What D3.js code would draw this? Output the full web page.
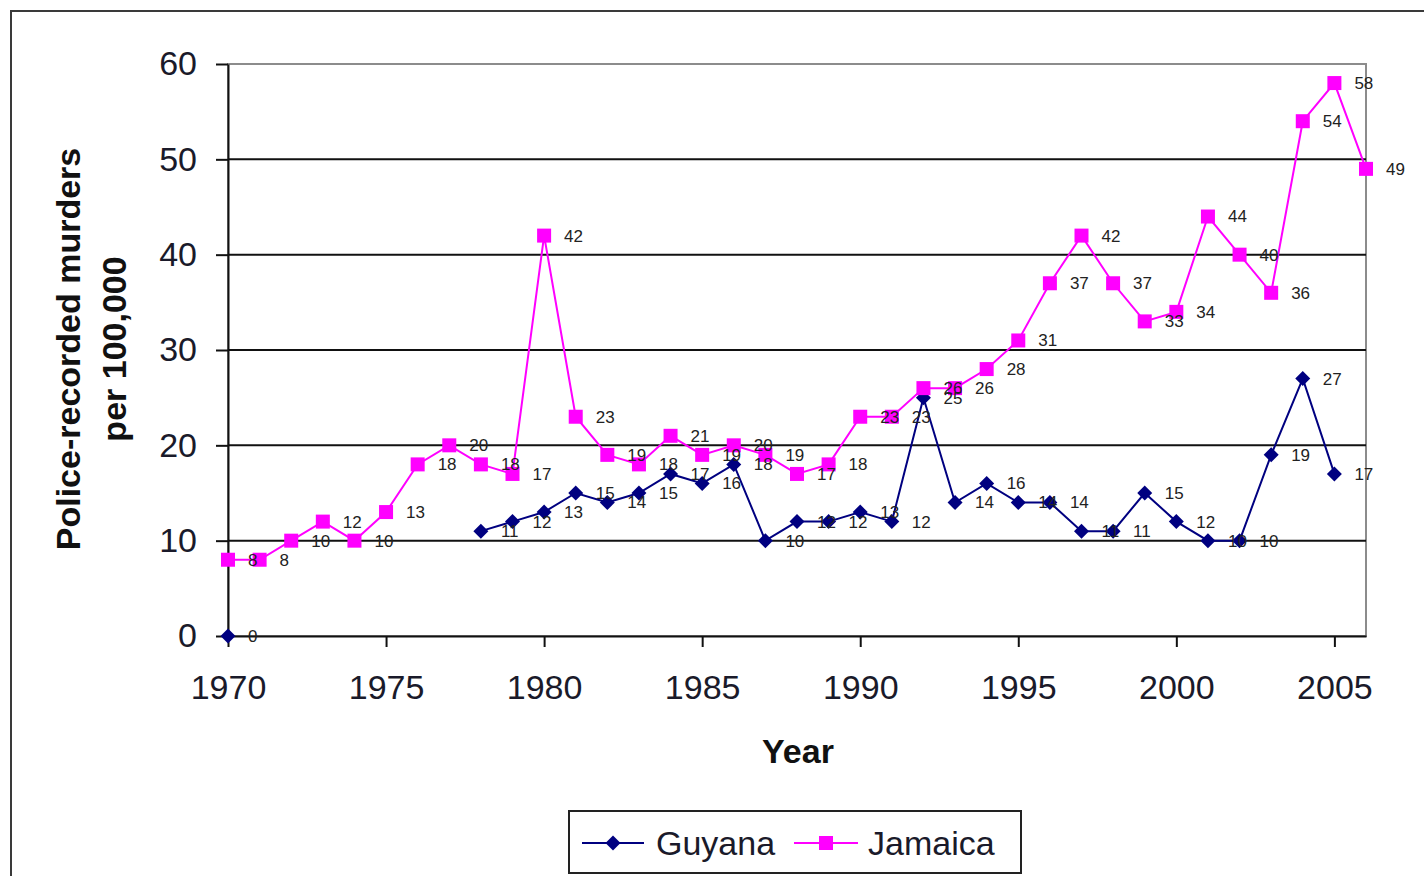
<!DOCTYPE html>
<html>
<head>
<meta charset="utf-8">
<script src="https://cdn.jsdelivr.net/npm/d3@7"></script>
<style>
  body { margin: 0; background: #fff; }
  svg { display: block; font-family: "Liberation Sans", Arial, sans-serif; }
</style>
</head>
<body>
<svg></svg>
<script>
// years on the x axis
let years = d3.range(1970, 2007);

// police-recorded murders per 100,000 (null = no data)
let guyana = [0, null, null, null, null, null, null, null, 11, 12,
              13, 15, 14, 15, 17, 16, 18, 10, 12, 12,
              13, 12, 25, 14, 16, 14, 14, 11, 11, 15,
              12, 10, 10, 19, 27, 17, null];
let jamaica = [8, 8, 10, 12, 10, 13, 18, 20, 18, 17,
               42, 23, 19, 18, 21, 19, 20, 19, 17, 18,
               23, 23, 26, 26, 28, 31, 37, 42, 37, 33,
               34, 44, 40, 36, 54, 58, 49];

let xTicks = [1970, 1975, 1980, 1985, 1990, 1995, 2000, 2005];
let yTicks = [0, 10, 20, 30, 40, 50, 60];
let seriesNames = ['Guyana', 'Jamaica'];

let svgWidth = 1424,
    svgHeight = 876;

// plot area
let plotLeft = 228, plotRight = 1366, plotTop = 64, plotBottom = 636;

let svg = d3.select('svg')
            .attr('width', svgWidth)
            .attr('height', svgHeight);

let xScale = d3.scaleLinear()
               .domain([1970, 2006])
               .range([plotLeft, plotRight]);

let yScale = d3.scaleLinear()
               .domain([0, 60])
               .range([plotBottom, plotTop]);

// outer chart border (runs off the right and bottom of the picture)
svg.append('rect')
   .attr('x', 11).attr('y', 11)
   .attr('width', 1440).attr('height', 900)
   .attr('fill', 'none')
   .attr('stroke', '#3a3a3a')
   .attr('stroke-width', 2);

// plot area border
svg.append('rect')
   .attr('x', plotLeft).attr('y', plotTop)
   .attr('width', plotRight - plotLeft).attr('height', plotBottom - plotTop)
   .attr('fill', 'none')
   .attr('stroke', '#8c8c8c')
   .attr('stroke-width', 2);

// gridlines
svg.append('g')
   .selectAll('line')
   .data(yTicks.filter(d => d > 0 && d < 60))
   .enter()
   .append('line')
   .attr('x1', plotLeft).attr('x2', plotRight)
   .attr('y1', d => yScale(d)).attr('y2', d => yScale(d))
   .attr('stroke', '#111')
   .attr('stroke-width', 2);

// y axis
let yAxis = svg.append('g')
               .attr('transform', `translate(${plotLeft},0)`)
               .call(d3.axisLeft(yScale).tickValues(yTicks).tickSize(12).tickSizeOuter(0).tickPadding(19));

// x axis
let xAxis = svg.append('g')
               .attr('transform', `translate(0,${plotBottom})`)
               .call(d3.axisBottom(xScale).tickValues(xTicks).tickFormat(d3.format('d'))
                       .tickSize(11).tickSizeOuter(0).tickPadding(28));

[yAxis, xAxis].forEach(a => {
    a.select('.domain').attr('stroke', '#111').attr('stroke-width', 2);
    a.selectAll('.tick line').attr('stroke', '#111').attr('stroke-width', 2);
    a.selectAll('.tick text')
     .attr('fill', '#1a1a2a')
     .style('font-size', '34px')
     .style('font-family', '"Liberation Sans", Arial, sans-serif');
});

// axis titles
svg.append('text')
   .attr('x', 798).attr('y', 763)
   .attr('text-anchor', 'middle')
   .style('font-size', '34px')
   .style('font-weight', 'bold')
   .attr('fill', '#111')
   .text('Year');

let yTitle = svg.append('text')
                .attr('transform', 'translate(80,349) rotate(-90)')
                .attr('text-anchor', 'middle')
                .style('font-size', '34px')
                .style('font-weight', 'bold')
                .attr('fill', '#111');
yTitle.append('tspan').attr('x', 0).attr('y', 0).text('Police-recorded murders');
yTitle.append('tspan').attr('x', 0).attr('y', 46).text('per 100,000');

// series
let series = [
    {name: seriesNames[0], values: guyana, color: '#000080', marker: 'diamond'},
    {name: seriesNames[1], values: jamaica, color: '#ff00ff', marker: 'square'}
];

let line = d3.line()
             .defined(d => d.v !== null)
             .x(d => xScale(d.year))
             .y(d => yScale(d.v));

let diamond = 'M0,-7.5L7.5,0L0,7.5L-7.5,0Z';

function drawMarker(g, type, color) {
    if (type === 'diamond') {
        g.append('path').attr('d', diamond).attr('fill', color);
    } else {
        g.append('rect').attr('x', -7).attr('y', -7)
         .attr('width', 14).attr('height', 14).attr('fill', color);
    }
}

series.forEach(s => {
    let pts = years.map((year, i) => ({year: year, v: s.values[i]}));

    svg.append('path')
       .datum(pts)
       .attr('d', line)
       .attr('fill', 'none')
       .attr('stroke', s.color)
       .attr('stroke-width', 2);

    let valid = pts.filter(d => d.v !== null);

    svg.append('g')
       .selectAll('g')
       .data(valid)
       .enter()
       .append('g')
       .attr('transform', d => `translate(${xScale(d.year)},${yScale(d.v)})`)
       .each(function() { drawMarker(d3.select(this), s.marker, s.color); });

    s.pts = valid;
});

// data labels (drawn last so they sit on top)
series.forEach(s => {
    svg.append('g')
       .selectAll('text')
       .data(s.pts)
       .enter()
       .append('text')
       .attr('x', d => xScale(d.year) + 20)
       .attr('y', d => yScale(d.v))
       .attr('dy', '0.35em')
       .style('font-size', '17px')
       .attr('fill', '#222')
       .text(d => d.v);
});

// legend
let legend = svg.append('g');
legend.append('rect')
      .attr('x', 569).attr('y', 811)
      .attr('width', 452).attr('height', 62)
      .attr('fill', '#fff')
      .attr('stroke', '#222')
      .attr('stroke-width', 2);

let legendItems = [
    {x1: 582, x2: 644, tx: 656},
    {x1: 794, x2: 858, tx: 868}
];

series.forEach((s, i) => {
    let it = legendItems[i];
    legend.append('line')
          .attr('x1', it.x1).attr('x2', it.x2)
          .attr('y1', 843).attr('y2', 843)
          .attr('stroke', s.color)
          .attr('stroke-width', 2);
    let m = legend.append('g').attr('transform', `translate(${(it.x1 + it.x2) / 2},843)`);
    drawMarker(m, s.marker, s.color);
    legend.append('text')
          .attr('x', it.tx).attr('y', 855)
          .style('font-size', '34px')
          .attr('fill', '#1a1a2a')
          .text(s.name);
});
</script>
</body>
</html>
